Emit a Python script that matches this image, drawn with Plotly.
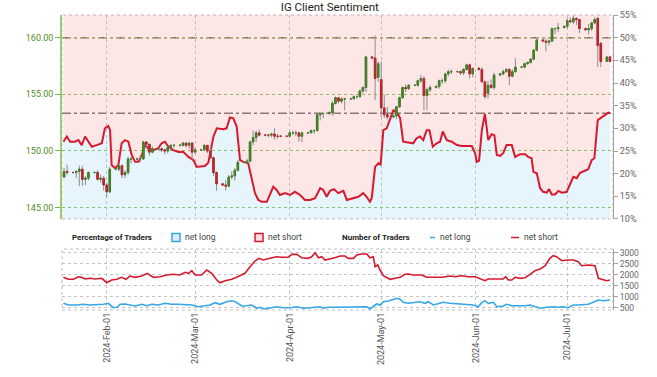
import numpy as np
import pandas as pd
import plotly.graph_objects as go

# ---------------- data ----------------
candle_dates = [
    "2024-01-18", "2024-01-19", "2024-01-21", "2024-01-22", "2024-01-23", "2024-01-24", "2024-01-25", "2024-01-26",
    "2024-01-28", "2024-01-29", "2024-01-30", "2024-01-31", "2024-02-01", "2024-02-02",
    "2024-02-04", "2024-02-05", "2024-02-06", "2024-02-07", "2024-02-08", "2024-02-09",
    "2024-02-11", "2024-02-12", "2024-02-13", "2024-02-14", "2024-02-15", "2024-02-16",
    "2024-02-18", "2024-02-19", "2024-02-20", "2024-02-21", "2024-02-22", "2024-02-23",
    "2024-02-25", "2024-02-26", "2024-02-27", "2024-02-28", "2024-02-29", "2024-03-01",
    "2024-03-03", "2024-03-04", "2024-03-05", "2024-03-06", "2024-03-07", "2024-03-08",
    "2024-03-10", "2024-03-11", "2024-03-12", "2024-03-13", "2024-03-14", "2024-03-15",
    "2024-03-17", "2024-03-18", "2024-03-19", "2024-03-20", "2024-03-21", "2024-03-22",
    "2024-03-24", "2024-03-25", "2024-03-26", "2024-03-27", "2024-03-28", "2024-03-29",
    "2024-03-31", "2024-04-01", "2024-04-02", "2024-04-03", "2024-04-04", "2024-04-05",
    "2024-04-07", "2024-04-08", "2024-04-09", "2024-04-10", "2024-04-11", "2024-04-12",
    "2024-04-14", "2024-04-15", "2024-04-16", "2024-04-17", "2024-04-18", "2024-04-19",
    "2024-04-21", "2024-04-22", "2024-04-23", "2024-04-24", "2024-04-25", "2024-04-26",
    "2024-04-28", "2024-04-29", "2024-04-30", "2024-05-01", "2024-05-02", "2024-05-03",
    "2024-05-05", "2024-05-06", "2024-05-07", "2024-05-08", "2024-05-09", "2024-05-10",
    "2024-05-12", "2024-05-13", "2024-05-14", "2024-05-15", "2024-05-16", "2024-05-17",
    "2024-05-19", "2024-05-20", "2024-05-21", "2024-05-22", "2024-05-23", "2024-05-24",
    "2024-05-26", "2024-05-27", "2024-05-28", "2024-05-29", "2024-05-30", "2024-05-31",
    "2024-06-02", "2024-06-03", "2024-06-04", "2024-06-05", "2024-06-06", "2024-06-07",
    "2024-06-09", "2024-06-10", "2024-06-11", "2024-06-12", "2024-06-13", "2024-06-14",
    "2024-06-16", "2024-06-17", "2024-06-18", "2024-06-19", "2024-06-20", "2024-06-21",
    "2024-06-23", "2024-06-24", "2024-06-25", "2024-06-26", "2024-06-27", "2024-06-28",
    "2024-06-30", "2024-07-01", "2024-07-02", "2024-07-03", "2024-07-04", "2024-07-05",
    "2024-07-07", "2024-07-08", "2024-07-09", "2024-07-10", "2024-07-11", "2024-07-12",
    "2024-07-14", "2024-07-15",
]
candle_open = [
    147.7, 148.2, 148.1, 148.1, 148.2, 148.4, 147.5, 147.6,
    148.1, 148.1, 147.5, 147.6, 147.0, 146.4,
    148.4, 148.4, 148.7, 147.9, 148.1, 149.3,
    149.3, 149.3, 149.3, 150.8, 150.6, 149.9,
    150.2, 150.2, 150.1, 150.0, 150.3, 150.5,
    150.5, 150.5, 150.7, 150.5, 150.7, 149.9,
    150.1, 150.1, 150.5, 150.0, 149.4, 148.1,
    147.1, 147.0, 146.9, 147.7, 147.8, 148.3,
    149.0, 149.0, 149.1, 150.8, 151.2, 151.6,
    151.4, 151.4, 151.4, 151.5, 151.3, 151.3,
    151.3, 151.3, 151.6, 151.6, 151.6, 151.3,
    151.6, 151.6, 151.8, 151.8, 153.2, 153.3,
    153.3, 153.4, 154.2, 154.7, 154.4, 154.6,
    154.6, 154.6, 154.8, 154.8, 155.3, 155.6,
    158.3, 158.2, 156.5, 156.3, 153.8, 153.2,
    153.0, 153.1, 153.9, 154.7, 155.6, 155.5,
    155.8, 155.8, 156.2, 156.4, 154.9, 155.4,
    155.6, 155.7, 156.2, 156.2, 156.8, 157.0,
    157.0, 157.0, 156.9, 157.2, 157.6, 156.8,
    157.3, 157.2, 156.1, 155.1, 155.8, 155.6,
    156.7, 156.8, 157.0, 157.2, 156.6, 157.0,
    157.4, 157.4, 157.7, 157.8, 158.1, 158.9,
    159.8, 159.7, 159.6, 159.7, 160.8, 160.8,
    160.9, 161.0, 161.5, 161.4, 161.7, 161.6,
    160.8, 160.7, 160.8, 161.3, 161.7, 159.5,
    157.9, 158.3,
]
candle_high = [
    148.5, 148.8, 148.2, 148.3, 148.7, 148.7, 147.8, 148.2,
    148.2, 148.3, 147.9, 147.8, 147.2, 148.6,
    148.5, 148.9, 148.8, 148.3, 149.5, 149.5,
    149.4, 149.6, 150.9, 150.8, 150.6, 150.4,
    150.3, 150.3, 150.2, 150.4, 150.6, 150.6,
    150.6, 150.8, 150.7, 150.8, 150.8, 150.3,
    150.2, 150.6, 150.5, 150.3, 149.5, 148.2,
    147.2, 147.4, 147.9, 148.2, 148.5, 149.2,
    149.1, 149.3, 150.9, 151.8, 151.8, 151.9,
    151.5, 151.5, 151.6, 152.0, 151.5, 151.4,
    151.4, 151.8, 151.8, 151.8, 151.7, 151.7,
    151.7, 151.9, 151.9, 153.2, 153.3, 153.4,
    153.5, 154.4, 154.8, 154.7, 154.7, 154.7,
    154.7, 154.9, 154.9, 155.4, 155.7, 158.4,
    158.4, 160.2, 157.9, 157.9, 155.0, 153.9,
    153.2, 154.0, 154.8, 155.7, 155.9, 155.9,
    155.9, 156.3, 156.7, 156.6, 155.6, 155.8,
    155.8, 156.3, 156.4, 156.9, 157.2, 157.2,
    157.1, 157.1, 157.3, 157.7, 157.7, 157.3,
    157.4, 157.4, 156.2, 156.2, 156.3, 156.9,
    156.9, 157.2, 157.3, 157.3, 157.2, 158.2,
    157.5, 157.8, 157.9, 158.2, 159.0, 159.9,
    159.9, 159.9, 159.8, 160.9, 160.9, 161.3,
    161.1, 161.7, 161.8, 161.95, 161.8, 161.6,
    160.9, 161.2, 161.4, 161.8, 161.8, 159.6,
    158.3, 158.4,
]
candle_low = [
    147.6, 147.9, 148.0, 147.6, 146.9, 146.9, 147.0, 147.4,
    148.0, 147.4, 147.2, 146.5, 145.9, 146.3,
    148.3, 148.2, 147.6, 147.6, 147.9, 148.9,
    149.2, 149.0, 149.2, 150.2, 149.6, 149.8,
    150.1, 149.9, 149.7, 149.8, 150.0, 150.3,
    150.4, 150.4, 150.3, 150.2, 149.2, 149.8,
    150.0, 150.0, 149.8, 149.3, 147.8, 146.5,
    146.9, 146.5, 146.8, 147.5, 147.4, 148.2,
    148.9, 148.9, 149.1, 150.5, 150.8, 151.3,
    151.3, 151.2, 151.2, 151.0, 151.1, 151.2,
    151.2, 151.3, 151.4, 151.3, 150.8, 150.8,
    151.5, 151.6, 151.5, 151.7, 152.7, 152.9,
    153.2, 153.1, 154.1, 154.2, 154.2, 153.6,
    154.5, 154.6, 154.6, 154.7, 155.1, 155.2,
    158.1, 154.5, 156.1, 153.0, 152.9, 152.8,
    152.9, 152.8, 153.8, 154.6, 155.2, 155.4,
    155.7, 155.7, 156.0, 153.6, 153.6, 155.2,
    155.5, 155.5, 155.9, 156.0, 156.6, 156.8,
    156.9, 156.7, 156.7, 157.1, 156.4, 156.5,
    157.1, 156.1, 154.6, 154.6, 155.5, 155.4,
    156.6, 156.7, 156.9, 155.8, 156.5, 156.9,
    157.3, 157.3, 157.6, 157.8, 158.0, 158.8,
    159.6, 158.8, 159.3, 159.6, 160.3, 160.5,
    160.8, 160.8, 161.3, 161.2, 161.1, 160.4,
    160.6, 160.3, 160.6, 161.2, 157.4, 157.4,
    157.9, 157.9,
]
candle_close = [
    148.2, 148.1, 148.1, 148.2, 148.4, 147.5, 147.6, 148.1,
    148.1, 147.5, 147.6, 147.0, 146.4, 148.4,
    148.4, 148.7, 147.9, 148.1, 149.3, 149.3,
    149.3, 149.3, 150.8, 150.6, 149.9, 150.2,
    150.2, 150.1, 150.0, 150.3, 150.5, 150.5,
    150.5, 150.7, 150.5, 150.7, 149.9, 150.1,
    150.1, 150.5, 150.0, 149.4, 148.1, 147.1,
    147.0, 146.9, 147.7, 147.8, 148.3, 149.0,
    149.0, 149.1, 150.8, 151.2, 151.6, 151.4,
    151.4, 151.4, 151.5, 151.3, 151.3, 151.3,
    151.3, 151.6, 151.6, 151.6, 151.3, 151.6,
    151.6, 151.8, 151.8, 153.2, 153.3, 153.3,
    153.4, 154.2, 154.7, 154.4, 154.6, 154.6,
    154.6, 154.8, 154.8, 155.3, 155.6, 158.3,
    158.2, 156.4, 157.7, 153.8, 153.2, 153.0,
    153.1, 153.9, 154.7, 155.6, 155.5, 155.8,
    155.8, 156.2, 156.4, 154.9, 155.4, 155.6,
    155.7, 156.2, 156.2, 156.8, 157.0, 157.0,
    157.0, 156.9, 157.2, 157.6, 156.8, 157.3,
    157.2, 156.1, 154.8, 155.8, 155.6, 156.7,
    156.8, 157.0, 157.2, 156.6, 157.0, 157.4,
    157.4, 157.7, 157.8, 158.1, 158.9, 159.8,
    159.7, 159.6, 159.7, 160.8, 160.8, 160.9,
    161.0, 161.5, 161.4, 161.7, 161.6, 160.8,
    160.7, 160.8, 161.3, 161.6, 159.3, 157.9,
    158.3, 157.9,
]

# net long share of traders (%), days counted from 2024-01-01
pct_days = [
    16.8, 17.9, 19.0, 20.6, 21.7, 22.8, 23.9, 25.0, 26.1, 27.7, 29.4, 30.4, 31.5, 32.1, 32.6, 33.7, 34.8,
    35.9, 37.0, 38.1, 39.2, 40.3, 41.4, 42.5, 43.6, 44.6, 46.3, 47.9, 49.0, 50.1, 51.2, 52.8, 54.5, 56.1,
    57.8, 59.4, 60.5, 61.0, 63.2, 64.3, 66.0, 67.1, 69.2, 70.3, 71.4, 72.5, 73.6, 74.7, 75.8, 77.4, 78.5,
    79.6, 80.7, 81.8, 83.5, 84.5, 85.6, 86.7, 87.8, 89.5, 91.1, 92.7, 94.4, 96.0, 97.7, 99.3, 101.0, 102.0,
    103.1, 104.2, 105.5, 106.9, 108.6, 109.7, 111.9, 113.5, 115.1, 116.2, 117.3, 117.9, 119.0, 120.1,
    120.8, 121.7, 122.8, 123.9, 125.0, 126.1, 127.2, 128.2, 129.9, 131.5, 132.6, 133.7, 134.8, 135.9,
    136.8, 137.9, 139.2, 140.3, 141.2, 142.5, 144.1, 145.8, 147.4, 149.0, 150.7, 151.8, 152.3, 153.1,
    154.0, 155.0, 156.1, 157.2, 158.1, 158.9, 160.0, 161.0, 162.1, 163.8, 164.9, 166.5, 168.2, 169.2,
    170.3, 170.9, 172.0, 173.1, 174.1, 175.3, 176.0, 176.9, 178.0, 179.1, 180.2, 181.8, 182.9, 184.0,
    185.1, 186.2, 187.8, 188.9, 190.0, 190.9, 192.0, 193.3, 194.4, 195.5, 196.0,
]
pct_long = [
    27.05, 28.2, 27.05, 27.05, 27.4, 26.3, 28.2, 27.05, 25.95, 26.3, 26.7, 30.0, 30.5, 29.6, 21.9, 21.2, 21.9,
    26.7, 27.4, 27.05, 24.1, 22.6, 22.6, 24.1, 26.3, 25.6, 25.2, 25.6, 26.7, 27.05, 25.95, 25.2, 24.8, 24.8,
    23.7, 23.0, 21.5, 21.5, 21.7, 22.4, 28.2, 30.0, 29.8, 30.0, 32.4, 32.2, 30.4, 23.0, 22.6, 22.3, 19.3,
    15.7, 14.2, 13.8, 13.8, 15.3, 17.1, 16.4, 15.3, 15.7, 15.3, 16.0, 15.3, 14.2, 14.2, 14.6, 16.8, 16.4,
    14.9, 16.2, 16.6, 15.7, 16.2, 14.2, 14.6, 14.9, 15.7, 14.9, 13.8, 14.6, 21.5, 22.3,
    21.9, 29.6, 30.0, 32.0, 34.0, 33.7, 32.2, 27.05, 26.8, 26.7, 27.8, 28.2, 27.4, 29.6,
    29.6, 25.95, 26.7, 27.05, 29.3, 27.4, 27.05, 26.3, 26.1, 26.1, 26.1, 24.5, 22.6, 22.9,
    29.6, 33.2, 27.4, 28.7, 28.5, 24.1, 23.9, 24.5, 26.3, 26.3, 23.7, 24.3, 24.3, 23.7,
    23.4, 20.4, 20.1, 16.8, 16.0, 15.8, 16.6, 15.4, 15.4, 16.2, 15.8, 15.95, 17.5, 19.3,
    19.0, 20.2, 20.65, 20.95, 23.0, 23.4, 31.8, 32.4, 32.9, 33.45, 33.3,
]

# number of traders
short_days = [
    16.8, 18.4, 20.1, 21.7, 22.8, 23.9, 25.5, 27.2, 29.4, 31.0, 32.6, 34.3, 35.9, 37.3, 38.6, 40.3, 42.5,
    44.3, 46.3, 48.5, 50.7, 52.8, 55.0, 56.7, 57.8, 58.9, 60.0, 62.1, 63.8, 65.4, 67.1, 68.1, 69.8, 72.0,
    73.6, 75.3, 76.3, 78.0, 79.6, 80.9, 82.3, 84.5, 86.7, 88.4, 90.5, 91.7, 93.3, 94.9, 97.1, 98.2, 99.3,
    100.4, 101.5, 102.6, 104.2, 106.0, 107.5, 109.1, 110.2, 111.9, 113.0, 114.6, 116.3, 117.3, 118.4,
    119.0, 119.9, 120.6, 121.7, 122.8, 123.9, 125.5, 127.2, 128.8, 129.9, 131.5, 134.3, 135.9, 138.6,
    140.8, 143.6, 145.2, 147.4, 149.6, 151.8, 153.4, 155.0, 156.1, 157.8, 159.4, 161.0, 161.8, 162.7,
    163.8, 164.9, 166.5, 168.2, 169.8, 171.4, 173.1, 174.7, 176.3, 177.4, 178.5, 180.2, 182.3, 184.0,
    185.6, 186.7, 188.9, 191.1, 192.2, 193.3, 194.9, 196.0,
]
short_count = [
    1882, 1791, 1791, 1909, 1882, 1805, 1836, 1805, 1836, 1636, 1759, 1791, 1882, 1791, 1941, 1882, 1941,
    2064, 1882, 1909, 1986, 2018, 1986, 2109, 2064, 2182, 1986, 1986, 2214, 2064, 1759, 1636, 1727, 1791,
    1882, 1986, 2064, 2364, 2623, 2745, 2668, 2745, 2818, 2791, 2791, 2927, 2927, 2773, 2745, 2818, 3000,
    2773, 2818, 2668, 2714, 2780, 2850, 2850, 2745, 2745, 2895, 2941, 2941, 2773, 2818,
    2364, 2441, 2214, 1955, 1882, 1791, 1836, 1882, 2018, 2032, 1986, 1986, 1882, 1864,
    1882, 1941, 1909, 1955, 1909, 1909, 1836, 1727, 1805, 1805, 1791, 1805, 1909, 1759,
    1759, 1882, 1836, 1864, 2018, 2182, 2259, 2395, 2745, 2864, 2818, 2636, 2668, 2668,
    2591, 2409, 2441, 2409, 1836, 1805, 1727, 1759,
]
long_days = [
    16.8, 18.4, 21.2, 23.3, 25.5, 27.7, 29.9, 31.5, 33.2, 34.3, 35.4, 37.0, 38.6, 40.3, 42.5, 44.1, 45.8,
    47.9, 50.1, 52.3, 54.5, 56.7, 58.9, 61.0, 62.7, 64.9, 66.5, 68.1, 70.3, 72.0, 73.1, 75.3, 76.9, 78.5,
    80.2, 81.3, 82.6, 84.5, 86.7, 88.9, 91.1, 93.3, 95.5, 97.7, 99.9, 100.9, 102.0, 103.7, 106.0, 108.0,
    110.2, 112.4, 114.6, 116.3, 117.3, 118.4, 119.5, 120.6, 121.7, 123.3, 125.0, 126.1, 127.2, 128.2,
    129.9, 132.1, 133.7, 135.4, 136.4, 138.1, 139.7, 141.4, 143.6, 146.3, 149.0, 151.2, 152.8, 154.0,
    155.0, 156.1, 157.8, 158.9, 161.0, 162.1, 163.8, 166.0, 168.2, 169.8, 171.4, 173.1, 175.3, 177.4,
    179.1, 180.7, 182.3, 184.0, 185.6, 187.3, 188.9, 190.5, 192.2, 193.8, 196.0,
]
long_count = [
    700, 623, 623, 655, 623, 623, 655, 700, 500, 518, 655, 668, 623, 577, 655, 591, 655,
    623, 700, 655, 655, 623, 623, 545, 577, 623, 727, 655, 773, 818, 773, 577, 591, 623,
    473, 518, 441, 500, 545, 500, 500, 545, 473, 500, 518, 545, 473, 518, 518, 518,
    518, 545, 545, 545, 441, 545, 668, 623, 773, 805, 882, 927, 882, 745,
    700, 727, 773, 700, 773, 623, 668, 745, 700, 668, 655, 623, 545, 727,
    818, 700, 745, 545, 577, 655, 591, 577, 591, 623, 545, 473, 518, 545,
    518, 545, 500, 623, 623, 655, 655, 745, 850, 818, 850,
]

month_ticks = ["2024-02-01", "2024-03-01", "2024-04-01", "2024-05-01", "2024-06-01", "2024-07-01"]
price_ticks = [145, 150, 155, 160]
pct_ticks = [10, 15, 20, 25, 30, 35, 40, 45, 50, 55]
pct_labels = ["10%", "15%", "20%", "25%", "30%", "35%", "40%", "45%", "50%", "55%"]
count_ticks = [500, 1000, 1500, 2000, 2500, 3000]

# ---------------- helpers ----------------
base = pd.Timestamp("2024-01-01")
def to_time(days):
    return base + pd.to_timedelta(np.array(days), unit="D")

x_range = ["2024-01-17 08:00", "2024-07-16 00:00"]
pct_x = to_time(pct_days)

FONT = "Roboto, 'Liberation Sans', sans-serif"
RED = "#d7192e"
BLUE = "#35a6e6"
GRID = "#c4c4c4"
GREEN_GRID = "#8cc45c"

fig = go.Figure()

# net long area (light blue) and net short area (light pink), on percent axis
fig.add_trace(go.Scatter(x=pct_x, y=pct_long, mode="lines", line=dict(width=0),
                         fill="tozeroy", fillcolor="rgba(116,194,238,0.18)",
                         xaxis="x", yaxis="y", hoverinfo="skip", showlegend=False))
fig.add_trace(go.Scatter(x=pct_x, y=[100] * len(pct_x), mode="lines", line=dict(width=0),
                         fill="tonexty", fillcolor="rgba(238,105,105,0.17)",
                         xaxis="x", yaxis="y", hoverinfo="skip", showlegend=False))
fig.add_trace(go.Scatter(x=pct_x, y=pct_long, mode="lines", line=dict(color=RED, width=2),
                         xaxis="x", yaxis="y", showlegend=False))

# candles: grey wicks, then coloured bodies (price axis overlays the percent axis)
body_hi = [max(o, c) for o, c in zip(candle_open, candle_close)]
body_lo = [min(o, c) for o, c in zip(candle_open, candle_close)]
fig.add_trace(go.Candlestick(x=candle_dates, open=candle_open, high=candle_high, low=candle_low,
                             close=candle_close, xaxis="x", yaxis="y3", showlegend=False,
                             increasing=dict(line=dict(color="#8d8d8d", width=1), fillcolor="#8d8d8d"),
                             decreasing=dict(line=dict(color="#8d8d8d", width=1), fillcolor="#8d8d8d")))
fig.add_trace(go.Candlestick(x=candle_dates, open=candle_open, high=body_hi, low=body_lo,
                             close=candle_close, xaxis="x", yaxis="y3", showlegend=False,
                             increasing=dict(line=dict(color="#3f7d22", width=1), fillcolor="#4e8f2b"),
                             decreasing=dict(line=dict(color="#b8232a", width=1), fillcolor="#cc2b30")))

# bottom panel: number of traders
fig.add_trace(go.Scatter(x=to_time(short_days), y=short_count, mode="lines",
                         line=dict(color=RED, width=1.6), xaxis="x2", yaxis="y2", showlegend=False))
fig.add_trace(go.Scatter(x=to_time(long_days), y=long_count, mode="lines",
                         line=dict(color=BLUE, width=1.6), xaxis="x2", yaxis="y2", showlegend=False))

top_dom = [0.3085, 1.0]
bot_dom = [0.0, 0.2068]

fig.update_layout(
    width=657, height=377,
    margin=dict(l=62, r=44, t=15, b=67, autoexpand=False),
    paper_bgcolor="white", plot_bgcolor="rgba(0,0,0,0)",
    font=dict(family=FONT, size=9, color="#555"),
    showlegend=False,
    title=dict(text="IG Client Sentiment", x=0.502, y=0.982, xanchor="center", yanchor="middle",
               font=dict(family=FONT, size=11.5, color="#222")),
    xaxis=dict(domain=[0, 1], anchor="y", type="date", range=x_range, showticklabels=False,
               tickvals=month_ticks, showgrid=True, gridcolor=GRID, griddash="dot", gridwidth=1,
               zeroline=False, showline=False, ticks="", automargin=False,
               rangeslider=dict(visible=False)),
    xaxis2=dict(domain=[0, 1], anchor="y2", type="date", range=x_range, matches="x",
                tickvals=month_ticks, tickformat="%Y-%b-%d", tickangle=-90, automargin=False,
                tickfont=dict(size=9, color="#555"), showgrid=True, gridcolor=GRID, griddash="dot",
                zeroline=False, showline=False, ticks="", rangeslider=dict(visible=False)),
    yaxis=dict(domain=top_dom, anchor="x", side="right", range=[10, 55], tickvals=pct_ticks,
               ticktext=pct_labels, showgrid=False, zeroline=False, showline=True, linecolor="#a0a0a0",
               ticks="outside", ticklen=4, tickcolor="#a0a0a0", automargin=False,
               tickfont=dict(size=9, color="#666")),
    yaxis4=dict(overlaying="y", anchor="x", side="right", range=[10, 55], dtick=10, tick0=10,
                showticklabels=False, showgrid=True, gridcolor=GRID, griddash="dot",
                zeroline=False, showline=False, ticks="", automargin=False),
    yaxis3=dict(overlaying="y", anchor="x", side="left", range=[144, 162], tickvals=price_ticks,
                tickformat=".2f", showgrid=True, gridcolor=GREEN_GRID, griddash="dot",
                zeroline=False, showline=True, linecolor="#9ccc74", linewidth=1.5,
                ticks="outside", ticklen=5, tickcolor="#7db84f", automargin=False,
                tickfont=dict(size=9, color="#4f8d26")),
    yaxis2=dict(domain=bot_dom, anchor="x2", side="right", range=[395, 3170], tickvals=count_ticks,
                showgrid=True, gridcolor=GRID, griddash="dot", zeroline=False, showline=True,
                linecolor="#a0a0a0", ticks="outside", ticklen=4, tickcolor="#a0a0a0",
                automargin=False, tickfont=dict(size=8.5, color="#666")),
)

shapes = [
    # dotted frames
    dict(type="rect", xref="x domain", yref="y domain", x0=0, x1=1, y0=0, y1=1, layer="below",
         line=dict(color="#bdbdbd", width=1, dash="dot")),
    dict(type="rect", xref="x2 domain", yref="y2 domain", x0=0, x1=1, y0=0, y1=1, layer="below",
         line=dict(color="#bdbdbd", width=1, dash="dot")),
    # 50% line and latest net-long level
    dict(type="line", xref="x domain", yref="y", x0=0, x1=1, y0=50, y1=50, layer="below",
         line=dict(color="#6e6e6e", width=1.5, dash="dashdot")),
    dict(type="line", xref="x domain", yref="y", x0=0, x1=1, y0=pct_long[-1], y1=pct_long[-1],
         layer="below", line=dict(color="#7a7a7a", width=1.5, dash="dashdot")),
    # legend swatches
    dict(type="rect", xref="paper", yref="paper", x0=0.1996, x1=0.2142, y0=0.2322, y1=0.2593,
         fillcolor="#d8eefb", line=dict(color=BLUE, width=1.5)),
    dict(type="rect", xref="paper", yref="paper", x0=0.3503, x1=0.3648, y0=0.2322, y1=0.2593,
         fillcolor="#fbdfe0", line=dict(color=RED, width=1.5)),
    dict(type="line", xref="paper", yref="paper", x0=0.6679, x1=0.6770, y0=0.2458, y1=0.2458,
         line=dict(color=BLUE, width=1.5)),
    dict(type="line", xref="paper", yref="paper", x0=0.8149, x1=0.8294, y0=0.2458, y1=0.2458,
         line=dict(color=RED, width=1.5)),
]
fig.update_layout(shapes=shapes)

legend_texts = [
    ("<b>Percentage of Traders</b>", 0.0145, "#222", 8),
    ("net long", 0.2196, "#444", 8.5),
    ("net short", 0.3702, "#444", 8.5),
    ("<b>Number of Traders</b>", 0.5045, "#222", 8),
    ("net long", 0.6824, "#444", 8.5),
    ("net short", 0.8348, "#444", 8.5),
]
for txt, xp, col, fs in legend_texts:
    fig.add_annotation(text=txt, xref="paper", yref="paper", x=xp, y=0.2458, xanchor="left",
                       yanchor="middle", showarrow=False, font=dict(family=FONT, size=fs, color=col))

# the page body carries a default 8px margin; remove it so the figure sits at the window origin
fig.write_html("out.html", config={"displayModeBar": False},
               post_script="document.body.style.margin='0px';")
